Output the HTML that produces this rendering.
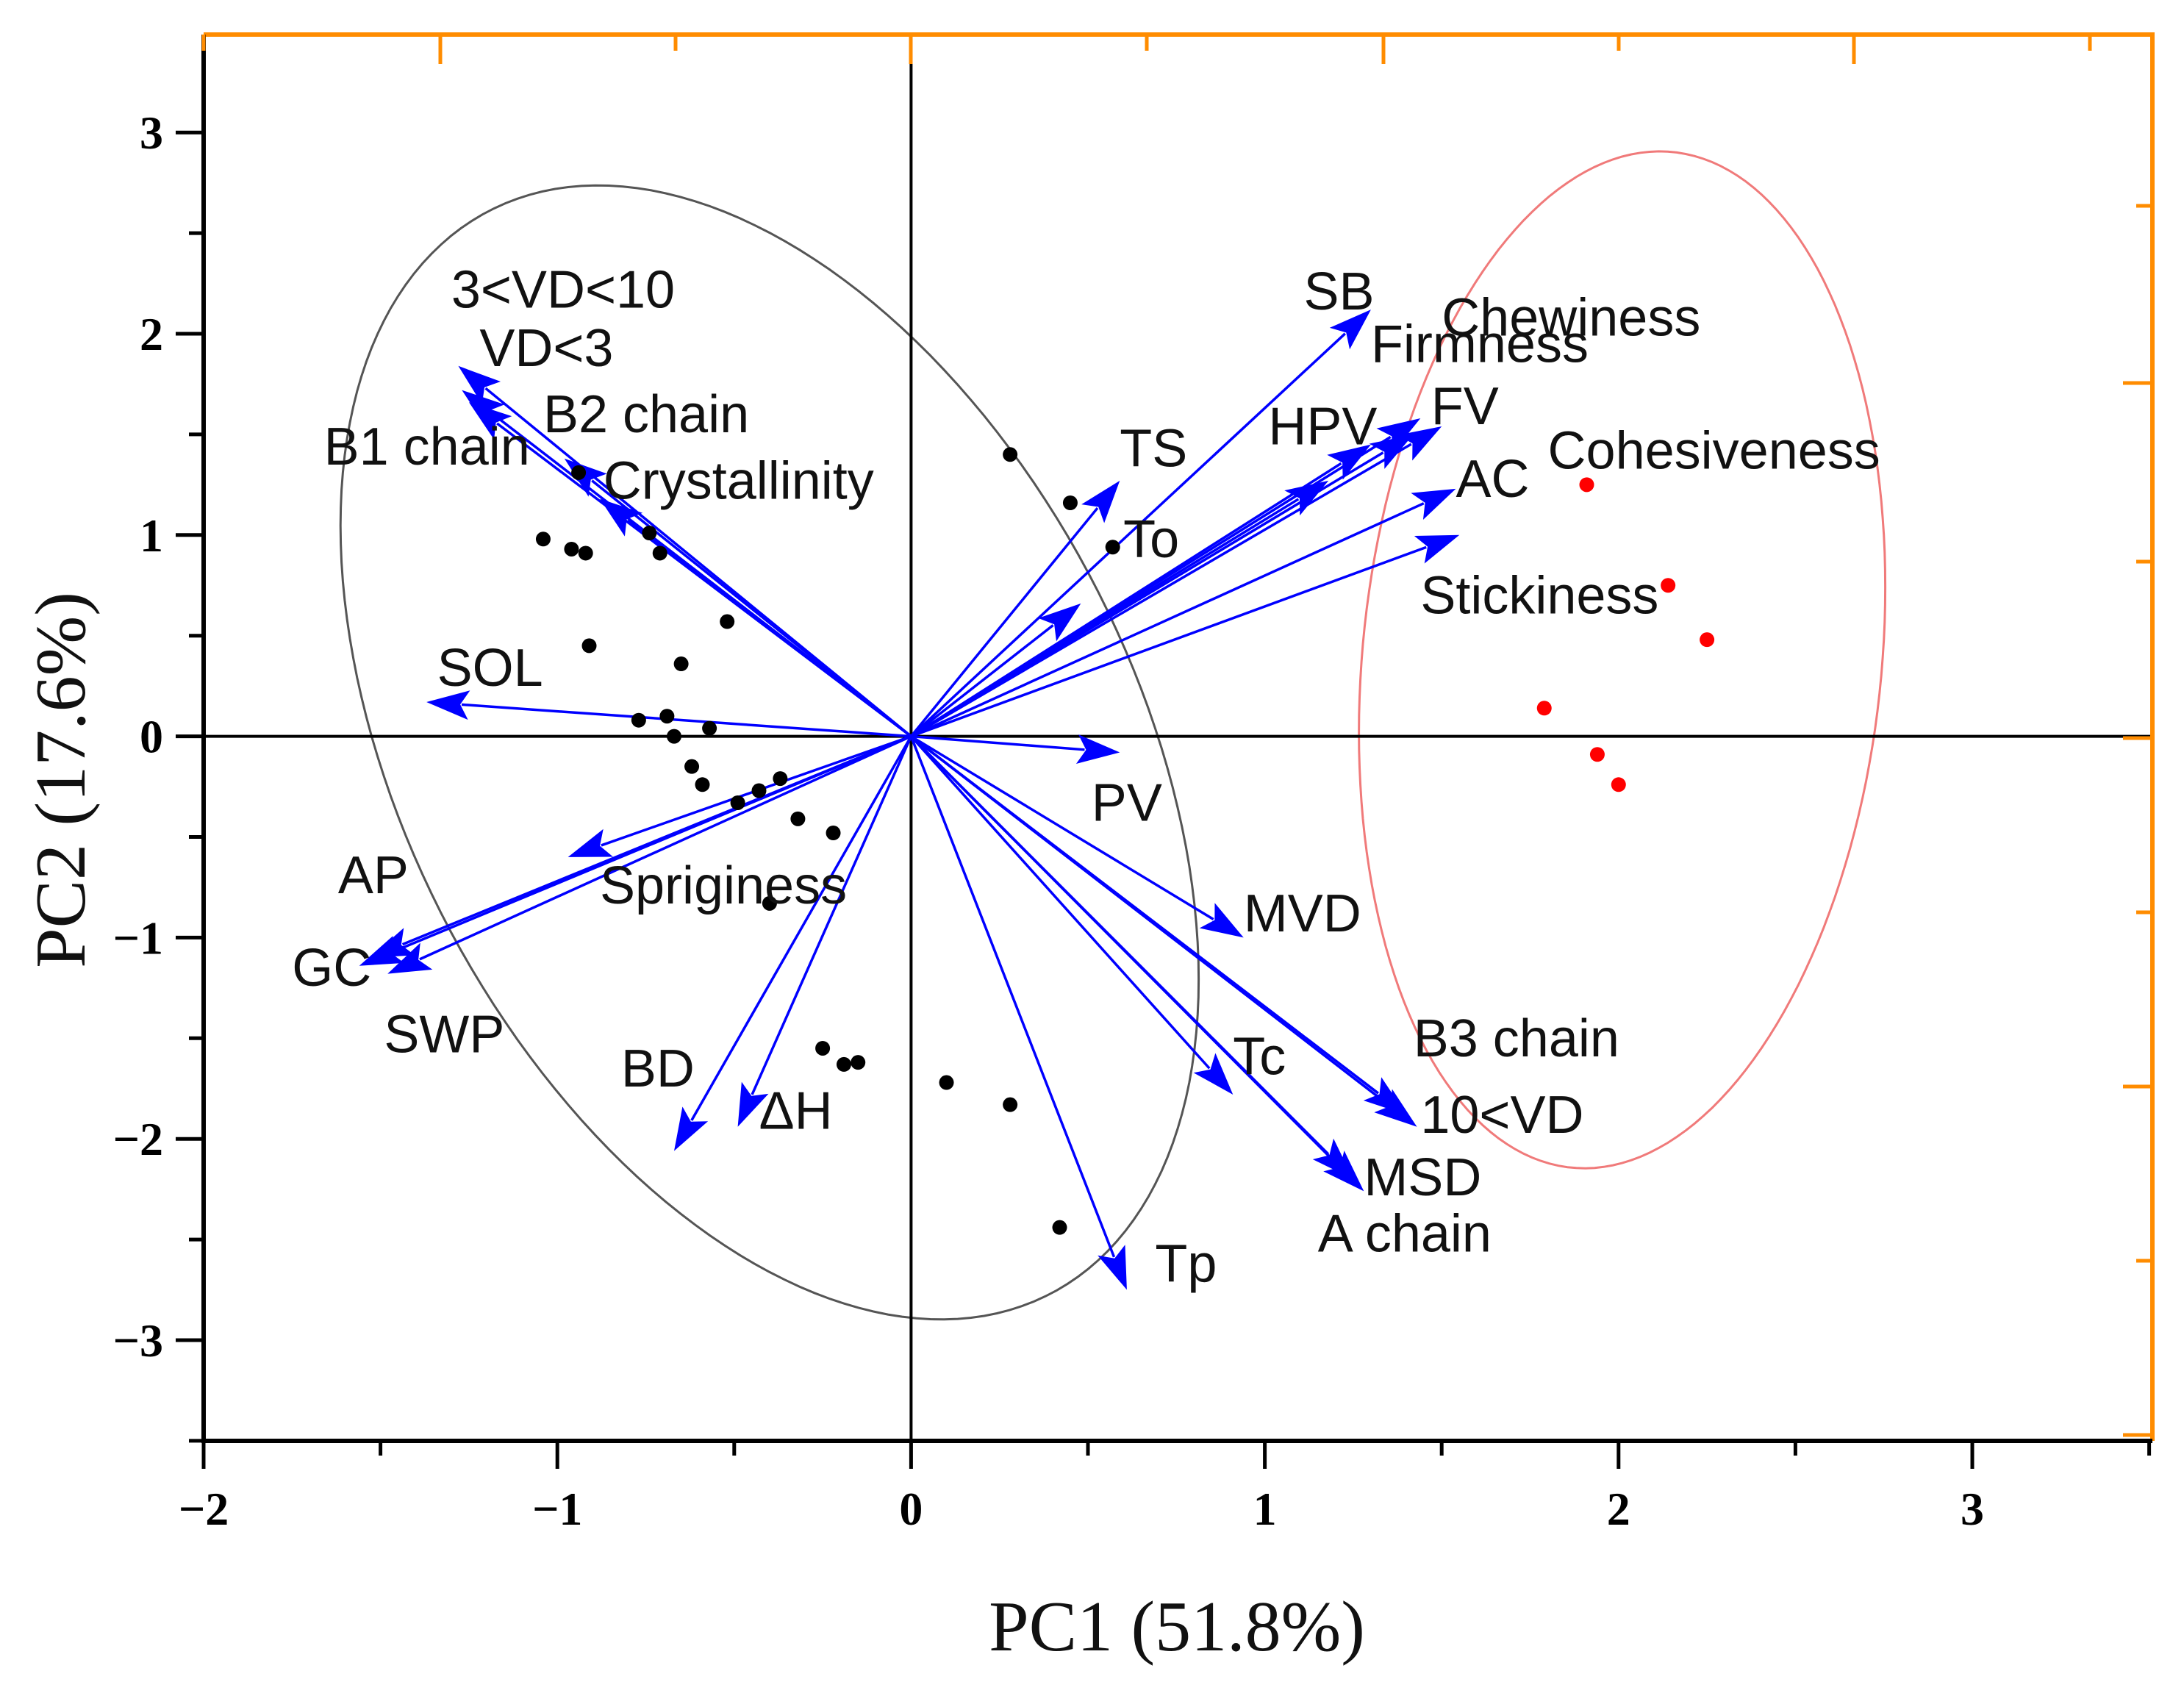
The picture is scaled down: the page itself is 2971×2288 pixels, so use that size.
<!DOCTYPE html>
<html><head><meta charset="utf-8"><style>
html,body{margin:0;padding:0;background:#fff;}
svg{display:block;}
</style></head><body>
<svg id="chart" width="2971" height="2288" viewBox="0 0 2971 2288" xmlns="http://www.w3.org/2000/svg">
<rect x="0" y="0" width="2971" height="2288" fill="#fff"/>
<g id="gEll"></g><g id="gZero"></g><g id="gArrows"></g><g id="gPts"></g><g id="gAxes"></g><g id="gLabels"></g>
<text x="1601" y="2245" text-anchor="middle" font-family="Liberation Serif, serif" font-size="98" fill="#111">PC1 (51.8%)</text>
<text x="0" y="0" transform="translate(115,1061) rotate(-90)" text-anchor="middle" font-family="Liberation Serif, serif" font-size="98" fill="#111">PC2 (17.6%)</text>
</svg>
<script>
const varNames = ["3<VD<10","VD<3","B2 chain","B1 chain","Crystallinity","SOL","AP","GC","SWP","Spriginess","BD","ΔH","Tp","Tc","MSD","A chain","10<VD","B3  chain","MVD","PV","TS","To","SB","HPV","Firmness","FV","Chewiness","AC","Stickiness","Cohesiveness"];
const loadX = [-1.28,-1.27,-0.98,-1.25,-0.88,-1.37,-1.53,-1.56,-1.48,-0.97,-0.67,-0.49,0.61,0.91,1.28,1.25,1.43,1.40,0.94,0.59,0.59,0.48,1.30,1.30,1.44,1.50,1.42,1.54,1.55,1.18];
const loadY = [1.84,1.72,1.38,1.66,1.18,0.17,-1.10,-1.14,-1.18,-0.60,-2.06,-1.94,-2.75,-1.78,-2.26,-2.20,-1.94,-1.88,-1.00,-0.08,1.27,0.66,2.12,1.45,1.58,1.54,1.50,1.23,1.00,1.27];
// label anchors (data units, left/baseline)
const labX = [-1.30,-1.22,-1.04,-1.66,-0.87,-1.34,-1.62,-1.75,-1.49,-0.88,-0.82,-0.43,0.69,0.91,1.28,1.15,1.44,1.42,0.94,0.51,0.59,0.60,1.11,1.01,1.30,1.47,1.50,1.54,1.44,1.80];
const labY = [2.13,1.84,1.51,1.35,1.18,0.25,-0.78,-1.24,-1.57,-0.83,-1.74,-1.95,-2.71,-1.68,-2.28,-2.56,-1.97,-1.59,-0.97,-0.42,1.34,0.89,2.12,1.45,1.86,1.55,1.99,1.19,0.61,1.33];
const blackX = [0.28,0.45,0.57,-0.94,-1.04,-0.96,-0.92,-0.74,-0.71,-0.52,-0.91,-0.65,-0.77,-0.69,-0.57,-0.67,-0.62,-0.59,-0.49,-0.43,-0.37,-0.32,-0.22,-0.40,-0.25,-0.19,-0.15,0.10,0.28,0.42];
const blackY = [1.40,1.16,0.94,1.31,0.98,0.93,0.91,1.01,0.91,0.57,0.45,0.36,0.08,0.10,0.04,0.0,-0.15,-0.24,-0.33,-0.27,-0.21,-0.41,-0.48,-0.83,-1.55,-1.63,-1.62,-1.72,-1.83,-2.44];
const redX = [1.91,2.14,2.25,1.79,1.94,2.00];
const redY = [1.25,0.75,0.48,0.14,-0.09,-0.24];
// ellipses: cx, cy, sx, sy, r
const ellBlack = [-0.40,-0.08,1.213,2.817,-0.40];
const ellRed = [2.01,0.38,0.744,2.526,0.143];
const xTicks = [-2,-1,0,1,2,3];
const yTicks = [-3,-2,-1,0,1,2,3];
const xMin=-2, xMax=3.51, yMin=-3.5, yMax=3.49;

const X0=1239.4, XU=481.2, Y0=1001.6, YU=273.8;
const L=277, R=2928, T=47, B=1960;
const sx = v => X0 + v*XU;
const sy = v => Y0 - v*YU;
const NS="http://www.w3.org/2000/svg";
function mk(tag, attrs, parent){const e=document.createElementNS(NS,tag);for(const k in attrs)e.setAttribute(k,attrs[k]);parent.appendChild(e);return e;}
const gE=document.getElementById('gEll'),gZ=document.getElementById('gZero'),gA=document.getElementById('gArrows'),gP=document.getElementById('gPts'),gX=document.getElementById('gAxes'),gL=document.getElementById('gLabels');

function drawEll(p,color,name){
  let d="";
  for(let i=0;i<=180;i++){const t=i/180*2*Math.PI;
    const x=p[0]+p[2]*Math.cos(t);
    const y=p[1]+p[3]*(p[4]*Math.cos(t)+Math.sqrt(1-p[4]*p[4])*Math.sin(t));
    d+=(i?"L":"M")+sx(x).toFixed(1)+","+sy(y).toFixed(1);}
  const e=mk('path',{d:d+"Z",fill:"none",stroke:color,"stroke-width":3},gE);
  
  
}
drawEll(ellBlack,"#555","group-ellipse-black");
drawEll(ellRed,"#f07a7a","group-ellipse-red");

let z1=mk('line',{x1:L,x2:R,y1:sy(0),y2:sy(0),stroke:"#000","stroke-width":4},gZ);


let z2=mk('line',{x1:sx(0),x2:sx(0),y1:T,y2:B,stroke:"#000","stroke-width":4},gZ);



for(let i=0;i<varNames.length;i++){
  const x1=sx(0),y1=sy(0),x2=sx(loadX[i]),y2=sy(loadY[i]);
  const dx=x2-x1,dy=y2-y1,len=Math.hypot(dx,dy),ux=dx/len,uy=dy/len;
  const hl=58,hw=20;
  const bx=x2-ux*hl,by=y2-uy*hl;
  const g=mk('g',{},gA);
  
  
  mk('line',{x1:x1,y1:y1,x2:bx+ux*10,y2:by+uy*10,stroke:"#0000ff","stroke-width":3.5},g);
  mk('polygon',{points:`${x2},${y2} ${bx-uy*hw},${by+ux*hw} ${bx+ux*12},${by+uy*12} ${bx+uy*hw},${by-ux*hw}`,fill:"#0000ff"},g);
  const t=mk('text',{x:sx(labX[i]),y:sy(labY[i]),"font-family":"Liberation Sans, sans-serif","font-size":72,fill:"#111"},gL);
  t.textContent=varNames[i];
  
  
}
for(let i=0;i<blackX.length;i++){
  const c=mk('circle',{cx:sx(blackX[i]),cy:sy(blackY[i]),r:10,fill:"#000"},gP);
  
  
}
for(let i=0;i<redX.length;i++){
  const c=mk('circle',{cx:sx(redX[i]),cy:sy(redY[i]),r:10,fill:"#ff0000"},gP);
  
  
}
const orange="#ff8c00";
let a;
a=mk('line',{x1:L,x2:R+3,y1:T,y2:T,stroke:orange,"stroke-width":6},gX);


a=mk('line',{x1:R,x2:R,y1:T,y2:B,stroke:orange,"stroke-width":6},gX);


a=mk('line',{x1:L,x2:L,y1:T,y2:B+3,stroke:"#000","stroke-width":6},gX);


a=mk('line',{x1:L-3,x2:R,y1:B,y2:B,stroke:"#000","stroke-width":6},gX);


[277,599,919,1239,1560,1882,2202,2522,2843].forEach((x,i)=>{
  mk('line',{x1:x,x2:x,y1:T,y2:T+(i%2?40:22),stroke:orange,"stroke-width":5},gX);
});
[280,521,764,1004,1241,1478,1715,1952].forEach((y,i)=>{
  mk('line',{x1:R,x2:R-(i%2?40:22),y1:y,y2:y,stroke:orange,"stroke-width":5},gX);
});
for(let v=xMin;v<=xMax;v+=0.5){
  const major=Math.abs(v-Math.round(v))<1e-6;
  mk('line',{x1:sx(v),x2:sx(v),y1:B,y2:B+(major?38:20),stroke:"#000","stroke-width":5},gX);
}
for(let v=-3.5;v<=yMax;v+=0.5){
  const major=Math.abs(v-Math.round(v))<1e-6;
  mk('line',{x1:L,x2:L-(major?38:20),y1:sy(v),y2:sy(v),stroke:"#000","stroke-width":5},gX);
}
xTicks.forEach(v=>{
  const t=mk('text',{x:sx(v),y:B+114,"text-anchor":"middle","font-family":"Liberation Serif, serif","font-weight":"bold","font-size":64,fill:"#000"},gX);
  t.textContent=v<0?"\u2212"+(-v):String(v);
  
  
});
yTicks.forEach(v=>{
  const t=mk('text',{x:L-55,y:sy(v)+22,"text-anchor":"end","font-family":"Liberation Serif, serif","font-weight":"bold","font-size":64,fill:"#000"},gX);
  t.textContent=v<0?"\u2212"+(-v):String(v);
  
  
});
</script>
</body></html>
